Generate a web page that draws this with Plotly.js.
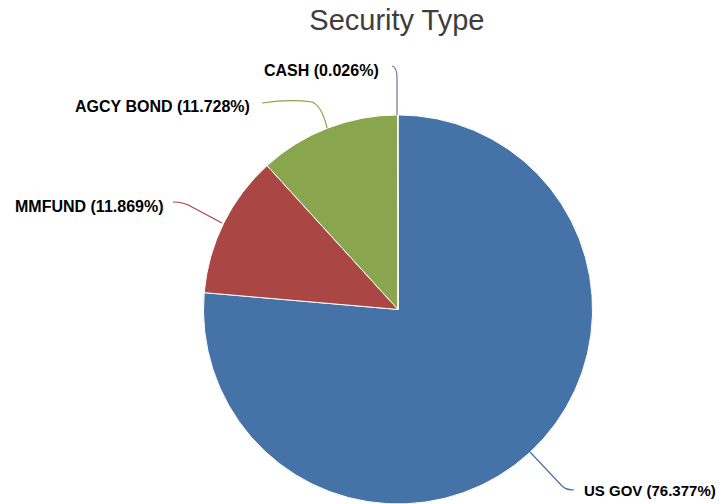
<!DOCTYPE html>
<html>
<head>
<meta charset="utf-8">
<script src="https://cdn.plot.ly/plotly-3.0.1.min.js"></script>
<style>html,body{margin:0;padding:0;background:#fff;}#chart{width:723px;height:504px;}</style>
</head>
<body>
<div id="chart"></div>
<script>
var categories = ["US GOV", "MMFUND", "AGCY BOND", "CASH"];
var values = [76.377, 11.869, 11.728, 0.026];
var colors = ["#4572A7", "#AA4643", "#89A54E", "#80699B"];

var W = 723, H = 504;
function px(x, y) { return (x / W).toFixed(5) + "," + (1 - y / H).toFixed(5); }

// label placement (layout only) and connector paths
var labelPos = [
  {x: 582, y: 490, anchor: "left", size: 15},
  {x: 165, y: 206, anchor: "right", size: 16},
  {x: 252, y: 106, anchor: "right", size: 16},
  {x: 381, y: 71, anchor: "right", size: 16}
];
var connectors = [
  "M" + px(530, 452) + " L" + px(562, 486) + " Q" + px(566, 490) + " " + px(574, 490),
  "M" + px(173, 202) + " Q" + px(184, 202) + " " + px(192, 207) + " L" + px(222, 223),
  "M" + px(262, 103) + " Q" + px(290, 99) + " " + px(312, 102) + " Q" + px(322, 106) + " " + px(327, 128),
  "M" + px(392, 66) + " Q" + px(397, 67) + " " + px(397, 78) + " L" + px(397, 115)
];

var annotations = categories.map(function (c, i) {
  return {
    text: "<b>" + c + " (" + values[i].toFixed(3) + "%)</b>",
    x: labelPos[i].x / W, y: 1 - labelPos[i].y / H,
    xref: "paper", yref: "paper",
    xanchor: labelPos[i].anchor, yanchor: "middle",
    showarrow: false,
    font: {family: "Liberation Sans, Arial, sans-serif", size: labelPos[i].size, color: "#000"}
  };
});
var shapes = connectors.map(function (p, i) {
  return {type: "path", xref: "paper", yref: "paper", path: p, line: {color: colors[i], width: 1.2}};
});

var trace = {
  type: "pie",
  labels: categories,
  values: values,
  sort: false,
  direction: "clockwise",
  rotation: 0,
  textinfo: "none",
  hoverinfo: "label+percent",
  marker: {colors: colors, line: {color: "#FFFFFF", width: 1}},
  domain: {x: [0.2808, 0.8202], y: [0, 0.772]},
  showlegend: false
};

var layout = {
  width: W, height: H,
  margin: {l: 0, r: 0, t: 0, b: 0},
  paper_bgcolor: "#FFFFFF",
  title: {text: "Security Type", x: 0.549, xanchor: "center", y: 1 - 20 / H, yanchor: "middle",
          font: {family: "Liberation Sans, Arial, sans-serif", size: 29, color: "#3E3E3E"}},
  annotations: annotations,
  shapes: shapes,
  showlegend: false
};

Plotly.newPlot("chart", [trace], layout, {displayModeBar: false, staticPlot: true});
</script>
</body>
</html>
